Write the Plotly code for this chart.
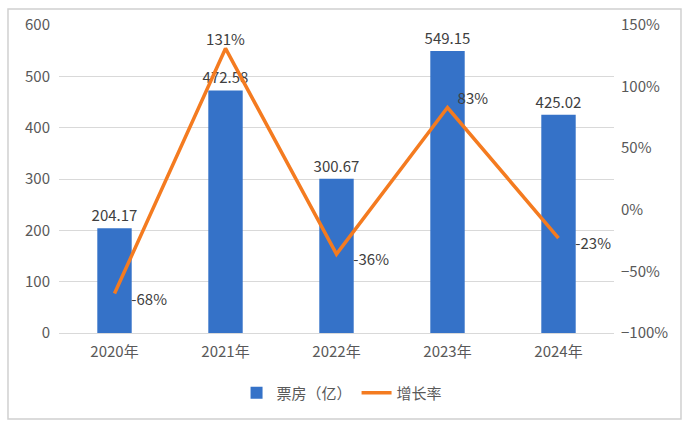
import plotly.graph_objects as go

years = ["2020年", "2021年", "2022年", "2023年", "2024年"]
box_office = [204.17, 472.58, 300.67, 549.15, 425.02]
growth = [-0.68, 1.31, -0.36, 0.83, -0.23]
growth_labels = ["-68%", "131%", "-36%", "83%", "-23%"]
bar_name = "票房（亿）"
line_name = "增长率"

FONT = "Noto Sans CJK SC"
TXT = "#595959"
BAR = "#3572C8"
LINE = "#F47B20"
FS = 15

pads = ["     ", "", "     ", "   ", "     "]

fig = go.Figure()
fig.add_trace(go.Bar(
    x=years, y=box_office, name=bar_name, marker_color=BAR, width=0.31,
    text=[f"{v:.2f}" for v in box_office], textposition="outside", constraintext="none",
    textfont=dict(size=FS, color="#404040", family=FONT), cliponaxis=False,
))
fig.add_trace(go.Scatter(
    x=years, y=growth, name=line_name, yaxis="y2", mode="lines+text",
    line=dict(color=LINE, width=3.5),
    text=[p + t for p, t in zip(pads, growth_labels)],
    textposition=["bottom right", "top center", "bottom right", "top right", "bottom right"],
    textfont=dict(size=FS, color="#404040", family=FONT), cliponaxis=False,
))

fig.update_layout(
    template="none",
    width=687, height=425,
    margin=dict(l=59, r=73, t=25, b=92, pad=0),
    paper_bgcolor="white", plot_bgcolor="white",
    font=dict(family=FONT, size=FS, color=TXT),
    bargap=0.69,
    showlegend=True,
    legend=dict(orientation="h", x=0.51, xanchor="center", y=-0.195, yanchor="middle",
                font=dict(size=FS, color=TXT), bgcolor="rgba(0,0,0,0)"),
    xaxis=dict(showgrid=False, showline=False, ticks="", automargin=False,
               tickfont=dict(size=FS, color=TXT), ticklabelstandoff=8),
    yaxis=dict(range=[0, 600], dtick=100, showgrid=True, gridcolor="#D9D9D9", gridwidth=1,
               zeroline=True, zerolinecolor="#D9D9D9", zerolinewidth=1, showline=False,
               ticks="", automargin=False,
               tickfont=dict(size=FS, color=TXT), ticklabelstandoff=8),
    yaxis2=dict(range=[-1, 1.5], dtick=0.5, tickformat=".0%", overlaying="y", side="right",
                showgrid=False, zeroline=False, showline=False, ticks="", automargin=False,
                tickfont=dict(size=FS, color=TXT), ticklabelstandoff=6),
    shapes=[dict(type="rect", xref="paper", yref="paper",
                 x0=-0.0919, x1=1.1207, y0=-0.279, y1=1.052,
                 line=dict(color="#D0D0D0", width=1.5), fillcolor="rgba(0,0,0,0)", layer="above")],
)

fig.write_html("out.html", config={"displayModeBar": False},
               post_script="document.body.style.margin='0px';document.body.style.overflow='hidden';")
